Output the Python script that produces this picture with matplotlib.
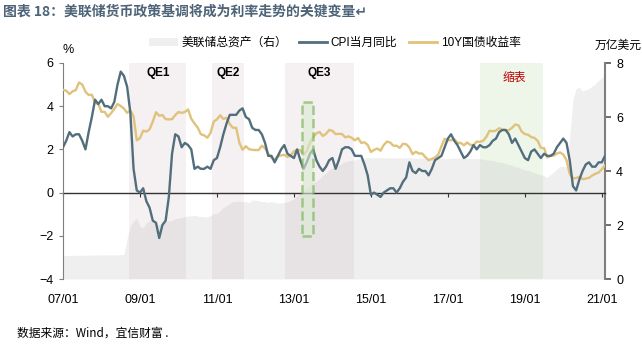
import numpy as np
import matplotlib
matplotlib.use('Agg')
import matplotlib.pyplot as plt
from matplotlib.patches import Rectangle, Patch
from matplotlib.lines import Line2D

plt.rcParams['font.family'] = ['Liberation Sans', 'Noto Sans CJK SC', 'DejaVu Sans']

# 月度数据：2007-01 ~ 2021-02
cpi = [2.1, 2.4, 2.8, 2.6, 2.7, 2.7, 2.4, 2.0, 2.8, 3.5, 4.3, 4.1,
       4.3, 4.0, 4.0, 3.9, 4.2, 5.0, 5.6, 5.4, 4.9, 3.7, 1.1, 0.1,
       0.0, 0.2, -0.4, -0.7, -1.3, -1.4, -2.1, -1.5, -1.3, -0.2, 1.8, 2.7,
       2.6, 2.1, 2.3, 2.2, 2.0, 1.1, 1.2, 1.1, 1.1, 1.2, 1.1, 1.5,
       1.6, 2.1, 2.7, 3.2, 3.6, 3.6, 3.6, 3.8, 3.9, 3.5, 3.4, 3.0,
       2.9, 2.9, 2.7, 2.3, 1.7, 1.7, 1.4, 1.7, 2.0, 2.2, 1.8, 1.7,
       1.6, 2.0, 1.5, 1.1, 1.4, 1.8, 2.0, 1.5, 1.2, 1.0, 1.2, 1.5,
       1.6, 1.1, 1.5, 2.0, 2.1, 2.1, 2.0, 1.7, 1.7, 1.7, 1.3, 0.8,
       -0.1, 0.0, -0.1, -0.2, 0.0, 0.1, 0.2, 0.2, 0.0, 0.2, 0.5, 0.7,
       1.4, 1.0, 0.9, 1.1, 1.0, 1.0, 0.8, 1.1, 1.5, 1.6, 1.7, 2.1,
       2.5, 2.7, 2.4, 2.2, 1.9, 1.6, 1.7, 1.9, 2.2, 2.0, 2.2, 2.1,
       2.1, 2.2, 2.4, 2.5, 2.8, 2.9, 2.9, 2.7, 2.3, 2.5, 2.2, 1.9,
       1.6, 1.5, 1.9, 2.0, 1.8, 1.6, 1.8, 1.7, 1.7, 1.8, 2.1, 2.3,
       2.5, 2.3, 1.5, 0.3, 0.1, 0.6, 1.0, 1.3, 1.4, 1.2, 1.2, 1.4,
       1.4, 1.7]

y10 = [4.76, 4.72, 4.56, 4.69, 4.75, 5.10, 5.00, 4.67, 4.52, 4.53, 4.15, 4.10,
       3.74, 3.74, 3.51, 3.68, 3.88, 4.10, 4.01, 3.89, 3.69, 3.81, 3.53, 2.42,
       2.52, 2.87, 2.82, 2.93, 3.29, 3.72, 3.56, 3.59, 3.40, 3.39, 3.40, 3.59,
       3.73, 3.69, 3.73, 3.85, 3.42, 3.20, 3.01, 2.70, 2.65, 2.54, 2.76, 3.29,
       3.39, 3.58, 3.41, 3.46, 3.17, 3.00, 3.00, 2.30, 1.98, 2.15, 2.01, 1.98,
       1.97, 1.97, 2.17, 2.05, 1.80, 1.62, 1.53, 1.68, 1.72, 1.75, 1.65, 1.72,
       1.91, 1.98, 1.96, 1.76, 1.93, 2.30, 2.58, 2.74, 2.81, 2.62, 2.72, 2.90,
       2.86, 2.71, 2.72, 2.71, 2.56, 2.60, 2.54, 2.42, 2.53, 2.30, 2.33, 2.21,
       1.88, 1.98, 2.04, 1.94, 2.20, 2.36, 2.32, 2.17, 2.17, 2.07, 2.26, 2.24,
       2.09, 1.78, 1.89, 1.81, 1.81, 1.64, 1.50, 1.56, 1.63, 1.76, 2.14, 2.49,
       2.43, 2.42, 2.48, 2.30, 2.30, 2.19, 2.32, 2.21, 2.20, 2.36, 2.35, 2.40,
       2.58, 2.86, 2.84, 2.87, 2.98, 2.91, 2.89, 2.89, 3.00, 3.15, 3.12, 2.83,
       2.71, 2.68, 2.57, 2.53, 2.40, 2.07, 2.06, 1.63, 1.70, 1.71, 1.81, 1.86,
       1.76, 1.50, 0.87, 0.66, 0.67, 0.73, 0.62, 0.65, 0.68, 0.79, 0.87, 0.93,
       1.08, 1.26]

fed = [0.87, 0.87, 0.87, 0.87, 0.88, 0.88, 0.88, 0.88, 0.88, 0.89, 0.89, 0.89,
       0.89, 0.89, 0.90, 0.89, 0.89, 0.90, 0.90, 0.91, 1.50, 1.97, 2.14, 2.24,
       1.95, 1.90, 2.08, 2.17, 2.10, 2.04, 2.01, 2.08, 2.14, 2.15, 2.17, 2.24,
       2.25, 2.28, 2.31, 2.33, 2.34, 2.36, 2.33, 2.31, 2.30, 2.30, 2.35, 2.42,
       2.43, 2.53, 2.65, 2.72, 2.80, 2.87, 2.87, 2.88, 2.87, 2.86, 2.83, 2.93,
       2.92, 2.89, 2.87, 2.87, 2.84, 2.87, 2.84, 2.81, 2.82, 2.83, 2.86, 2.91,
       2.97, 3.09, 3.18, 3.29, 3.37, 3.47, 3.57, 3.63, 3.71, 3.84, 3.92, 4.03,
       4.12, 4.18, 4.22, 4.28, 4.35, 4.37, 4.40, 4.42, 4.44, 4.46, 4.47, 4.50,
       4.49, 4.49, 4.50, 4.49, 4.49, 4.49, 4.49, 4.49, 4.49, 4.48, 4.49, 4.49,
       4.49, 4.49, 4.47, 4.48, 4.48, 4.47, 4.47, 4.47, 4.46, 4.46, 4.47, 4.45,
       4.46, 4.46, 4.48, 4.48, 4.47, 4.47, 4.47, 4.46, 4.46, 4.46, 4.45, 4.44,
       4.41, 4.40, 4.39, 4.35, 4.33, 4.32, 4.28, 4.24, 4.22, 4.16, 4.14, 4.08,
       4.05, 4.02, 3.98, 3.93, 3.90, 3.86, 3.82, 3.77, 3.87, 3.96, 4.07, 4.17,
       4.17, 4.16, 5.25, 6.66, 7.05, 7.10, 6.96, 7.01, 7.05, 7.15, 7.23, 7.36,
       7.45, 7.59]

x = np.arange(len(cpi))
xtick_pos = [0, 24, 48, 72, 96, 120, 144, 168]
xtick_labels = ['07/01', '09/01', '11/01', '13/01', '15/01', '17/01', '19/01', '21/01']

# 阴影区间（月序号）
qe_spans = [(20.7, 38.5, 'QE1'), (46.5, 56.4, 'QE2'), (69.2, 90.7, 'QE3')]
taper_span = (129.9, 149.7)

fig = plt.figure(figsize=(6.42, 3.53), dpi=100)
ax1 = fig.add_axes([63/642, 1 - 279/353, 542/642, 216/353])
ax2 = ax1.twinx()
ax1.set_zorder(ax2.get_zorder() + 1)
ax1.patch.set_visible(False)

# 右轴：阴影和美联储总资产
for a, b, name in qe_spans:
    ax2.axvspan(a, b, color='#f5f0f1', lw=0, zorder=0)
ax2.axvspan(taper_span[0], taper_span[1], color='#eef6ea', lw=0, zorder=0)
ax2.fill_between(x, 0, fed, color='#b8b8b8', alpha=0.22, lw=0, zorder=1)
ax2.set_ylim(0, 8)
ax2.set_yticks([0, 2, 4, 6, 8])

# 左轴：CPI 和 10Y
ax1.plot(x, cpi, color='#526e7d', lw=1.7, zorder=4)
ax1.plot(x, y10, color='#e0c27a', lw=1.7, zorder=3)
ax1.set_ylim(-4, 6)
ax1.set_yticks([-4, -2, 0, 2, 4, 6])
ax1.set_xlim(0, 169)

# 绿色虚线框
ax1.add_patch(Rectangle((74.4, -2.03), 3.6, 6.21, facecolor='#d9ead0', alpha=0.6,
                        edgecolor='#6fb04a', ls='--', lw=1.8, zorder=5))

for a, b, name in qe_spans:
    ax1.text((a + b) / 2, 5.55, name, ha='center', va='center',
             fontsize=8.5, fontweight='bold', color='black')
ax1.text(sum(taper_span) / 2 + 0.8, 5.35, '缩表', ha='center', va='center',
         fontsize=8.5, color='#c00000', family=['Noto Sans CJK SC'])

# 坐标轴样式
for s in ['top', 'right', 'bottom']:
    ax1.spines[s].set_visible(False)
for s in ['top', 'left', 'bottom']:
    ax2.spines[s].set_visible(False)
ax1.spines['left'].set_color('#7f7f7f')
ax2.spines['right'].set_color('#7f7f7f')
ax2.spines['right'].set_linewidth(1.5)
ax1.tick_params(axis='y', direction='out', length=3, color='#7f7f7f', labelsize=9, pad=4)
ax2.tick_params(axis='y', direction='out', length=4, width=1.2, color='#555555', labelsize=9, pad=4)

ax1.set_xticks(xtick_pos)
ax1.set_xticklabels(xtick_labels)
ax1.tick_params(axis='x', length=0, labelsize=9, pad=11)

# 零轴
zero_ax = ax1.secondary_xaxis(0.4)
zero_ax.set_xticks(xtick_pos)
zero_ax.set_xticklabels([])
zero_ax.tick_params(axis='x', direction='out', length=3, color='#333333')
zero_ax.spines['bottom'].set_color('#333333')
zero_ax.spines['bottom'].set_linewidth(1.0)

ax1.text(0.01, 1.058, '%', transform=ax1.transAxes, ha='center', va='center', fontsize=9)
ax1.text(1.024, 1.08, '万亿美元', transform=ax1.transAxes, ha='center', va='center',
         fontsize=8.5, family=['Noto Sans CJK SC'])

handles = [Patch(facecolor='#efefef', edgecolor='none'),
           Line2D([], [], color='#526e7d', lw=2),
           Line2D([], [], color='#e0c27a', lw=2)]
fig.legend(handles, ['美联储总资产（右）', 'CPI当月同比', '10Y国债收益率'],
           loc='center', bbox_to_anchor=(335/642, 1 - 43/353), ncol=3, frameon=False,
           handlelength=2.4, handletextpad=0.3, columnspacing=1.0,
           prop={'family': ['Liberation Sans', 'Noto Sans CJK SC'], 'size': 8.5})

fig.text(3/642, 1 - 12/353, '图表 18：美联储货币政策基调将成为利率走势的关键变量↵', ha='left', va='center',
         fontsize=10, fontweight='bold', color='#4d6378',
         family=['Noto Sans CJK SC', 'DejaVu Sans'])
fig.text(17/642, 1 - 333/353, '数据来源：Wind，宜信财富 .', ha='left', va='center',
         fontsize=8.5, family=['Noto Sans CJK SC'])

fig.savefig('out.png', dpi=100)
